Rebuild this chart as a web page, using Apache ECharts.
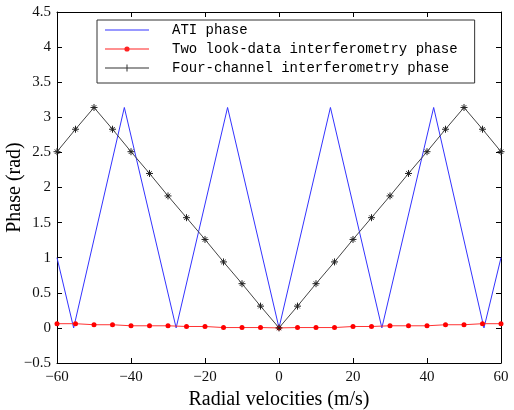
<!DOCTYPE html>
<html>
<head>
<meta charset="utf-8">
<script src="https://cdn.jsdelivr.net/npm/echarts@6/dist/echarts.min.js"></script>
<style>html,body{margin:0;padding:0;background:#fff;}#c{width:514px;height:410px;}</style>
</head>
<body>
<div id="c"></div>
<script>
// Data
var atiX = [-60, -55.5, -41.8, -27.8, -13.9, 0, 13.9, 27.8, 41.8, 55.4, 60];
var atiY = [1.0, 0.0, 3.14, 0.0, 3.14, 0.0, 3.14, 0.0, 3.14, 0.0, 1.0];
var velocities = [-60,-55,-50,-45,-40,-35,-30,-25,-20,-15,-10,-5,0,5,10,15,20,25,30,35,40,45,50,55,60];
var twoLook = [0.06,0.06,0.045,0.045,0.03,0.03,0.03,0.02,0.02,0.005,0.005,0.005,0.0,0.005,0.005,0.005,0.02,0.02,0.03,0.03,0.03,0.045,0.045,0.06,0.06];
var fourChannel = [2.51,2.83,3.14,2.83,2.51,2.20,1.88,1.57,1.26,0.94,0.63,0.31,0.0,0.31,0.63,0.94,1.26,1.57,1.88,2.20,2.51,2.83,3.14,2.83,2.51];
var seriesNames = ['ATI phase', 'Two look-data interferometry phase', 'Four-channel interferometry phase'];
var xTicks = {min: -60, max: 60, interval: 20};
var yTicks = {min: -0.5, max: 4.5, interval: 0.5};

function zip(a, b) { return a.map(function (v, i) { return [v, b[i]]; }); }

var serif = 'Liberation Serif';
var labelStyle = {fontFamily: serif, fontSize: 15, color: '#111'};
var minus = function (v) { return String(v).replace('-', '\u2212'); };

// legend icons (line sample + marker), bounding box fixed to 44x14
var box = 'M0,0M44,14';
var lineRect = 'M0,6.5H44V7.5H0Z';
var iconAti = 'path://' + box + lineRect;
var iconTwo = 'path://' + box + lineRect + 'M24.6,7A2.6,2.6 0 1 1 19.4,7A2.6,2.6 0 1 1 24.6,7Z';
var iconFour = 'path://' + box + lineRect + 'M21.5,3.5H22.5V10.5H21.5ZM18.5,6.5H25.5V7.5H18.5Z';

function axisBase(extra) {
  return Object.assign({
    type: 'value',
    axisLine: {onZero: false, lineStyle: {color: '#000', width: 1}},
    axisTick: {inside: true, length: 5, lineStyle: {color: '#000'}},
    splitLine: {show: false}
  }, extra);
}

var chart = echarts.init(document.getElementById('c'), null, {renderer: 'canvas'});
chart.setOption({
  animation: false,
  backgroundColor: '#fff',
  grid: {left: 57, right: 13, top: 12, bottom: 47, containLabel: false, outerBoundsMode: 'none'},
  legend: {
    orient: 'vertical',
    left: 97, top: 20,
    borderColor: '#333', borderWidth: 1,
    padding: [3, 17, 8, 8],
    itemWidth: 44, itemHeight: 14, itemGap: 5,
    textStyle: {fontFamily: 'Liberation Mono', fontSize: 14, color: '#000', padding: [0, 0, 0, 18]},
    data: [
      {name: seriesNames[0], icon: iconAti, itemStyle: {color: '#3333ff', borderWidth: 0}},
      {name: seriesNames[1], icon: iconTwo, itemStyle: {color: '#ff2222', borderWidth: 0}},
      {name: seriesNames[2], icon: iconFour, itemStyle: {color: '#333', borderWidth: 0}}
    ]
  },
  xAxis: [axisBase({
    min: xTicks.min, max: xTicks.max, interval: xTicks.interval, position: 'bottom',
    axisLabel: Object.assign({margin: 7, formatter: minus}, labelStyle),
    name: 'Radial velocities (m/s)', nameLocation: 'middle', nameGap: 24,
    nameTextStyle: {fontFamily: serif, fontSize: 20, color: '#000'}
  }), axisBase({
    min: xTicks.min, max: xTicks.max, interval: xTicks.interval, position: 'top',
    axisLabel: {show: false}
  })],
  yAxis: [axisBase({
    min: yTicks.min, max: yTicks.max, interval: yTicks.interval, position: 'left',
    axisLabel: Object.assign({margin: 6, formatter: minus}, labelStyle),
    name: 'Phase (rad)', nameLocation: 'middle', nameGap: 32, nameMoveOverlap: false,
    nameTextStyle: {fontFamily: serif, fontSize: 20, color: '#000'}
  }), axisBase({
    min: yTicks.min, max: yTicks.max, interval: yTicks.interval, position: 'right',
    axisLabel: {show: false}
  })],
  series: [{
    name: seriesNames[0], type: 'line', data: zip(atiX, atiY),
    symbol: 'none', lineStyle: {color: '#3333ff', width: 1}, itemStyle: {color: '#3333ff'}
  }, {
    name: seriesNames[1], type: 'line', data: zip(velocities, twoLook),
    symbol: 'circle', symbolSize: 5,
    lineStyle: {color: '#ff3333', width: 1}, itemStyle: {color: '#ff0000'}
  }, {
    name: seriesNames[2], type: 'line', data: zip(velocities, fourChannel),
    symbol: 'path://M0,5H10M5,0V10M1.8,1.8L8.2,8.2M8.2,1.8L1.8,8.2', symbolSize: 7,
    lineStyle: {color: '#444', width: 1},
    itemStyle: {color: 'none', borderColor: '#222', borderWidth: 1}
  }]
});
</script>
</body>
</html>
